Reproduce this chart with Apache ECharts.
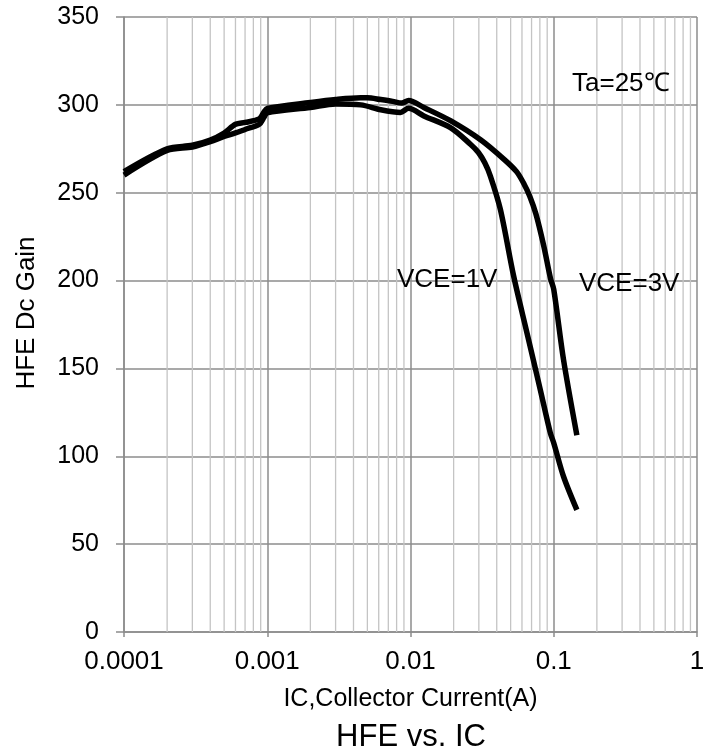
<!DOCTYPE html>
<html>
<head>
<meta charset="utf-8">
<script src="https://cdn.jsdelivr.net/npm/echarts@6/dist/echarts.min.js"></script>
<style>
  html, body { margin: 0; padding: 0; background: #fff; }
  #chart { width: 708px; height: 755px; }
</style>
</head>
<body>
<div id="chart"></div>
<script>
// VCE=3V curve
const ic3 = [0.0001, 0.0002, 0.0003, 0.0004, 0.0005, 0.0006, 0.0007, 0.00088, 0.00095, 0.001, 0.002, 0.003, 0.0045, 0.005, 0.0062, 0.0075, 0.0087, 0.0097, 0.0124, 0.019, 0.031, 0.045, 0.055, 0.062, 0.068, 0.075, 0.085, 0.095, 0.1, 0.117, 0.145]
const hfe3 = [262, 275, 277, 280, 284, 289, 290, 292, 296, 298, 301.3, 303, 304, 304, 303, 302, 301, 302.5, 298.5, 291, 280, 269, 262, 255, 248, 238, 220, 201, 195, 155, 112]
// VCE=1V curve
const ic1 = [0.0001, 0.0002, 0.0003, 0.0004, 0.0005, 0.0006, 0.0007, 0.00088, 0.00095, 0.001, 0.002, 0.003, 0.0045, 0.0062, 0.0085, 0.0097, 0.0124, 0.019, 0.0262, 0.0298, 0.033, 0.0361, 0.0424, 0.0525, 0.065, 0.0805, 0.0946, 0.1, 0.117, 0.145]
const hfe1 = [260, 274, 276, 279, 282, 284, 286, 289, 293, 295.5, 298.5, 300.5, 300, 297.2, 295.7, 298, 293.7, 287, 277.6, 272.9, 267, 259.5, 240.5, 202.5, 170.3, 138, 113.3, 107.6, 88.5, 69.5]

const xTickLabels = ['0.0001', '0.001', '0.01', '0.1', '1']
const decades = [0.0001, 0.001, 0.01, 0.1]

// minor vertical grid lines at 2..9 in each decade, one broken line series
let minorData = []
for (let d of decades) {
    for (let k = 2; k <= 9; k++) {
        minorData.push([d * k, 0], [d * k, 350], [d * k, '-'])
    }
}

function pairs(xs, ys) {
    return xs.map((x, i) => [x, ys[i]])
}

let myChart = echarts.init(document.getElementById('chart'))

let txt = { fontFamily: 'Liberation Sans, Arial, sans-serif', color: '#000' }

let option = {
    animation: false,
    backgroundColor: '#fff',
    title: {
        text: 'HFE vs. IC',
        left: 406,
        top: 717,
        textAlign: 'center',
        textStyle: { ...txt, fontSize: 31, fontWeight: 'normal' }
    },
    grid: { left: 124, right: 11, top: 17, bottom: 123 },
    xAxis: {
        type: 'log',
        logBase: 10,
        min: 0.0001,
        max: 1,
        name: 'IC,Collector Current(A)',
        nameLocation: 'middle',
        nameGap: 55,
        nameTextStyle: { ...txt, fontSize: 25 },
        axisLine: { lineStyle: { color: '#8c8c8c', width: 1.5 } },
        axisTick: { show: true, length: 5, lineStyle: { color: '#8c8c8c', width: 1.5 } },
        axisLabel: {
            ...txt,
            fontSize: 26,
            margin: 17,
            formatter: function(v) {
                return xTickLabels[Math.round(Math.log10(v)) + 4]
            }
        },
        splitLine: { show: true, lineStyle: { color: '#8c8c8c', width: 1.5 } }
    },
    yAxis: {
        type: 'value',
        min: 0,
        max: 350,
        interval: 50,
        name: 'HFE Dc Gain',
        nameLocation: 'middle',
        nameGap: 84,
        nameTextStyle: { ...txt, fontSize: 26, padding: [0, 0, 0, 23] },
        axisLine: { show: true, lineStyle: { color: '#8c8c8c', width: 1.5 } },
        axisTick: { show: true, length: 8, lineStyle: { color: '#8c8c8c', width: 1.5 } },
        axisLabel: { ...txt, fontSize: 25, margin: 25 },
        splitLine: { show: true, lineStyle: { color: '#8c8c8c', width: 1.5 } }
    },
    graphic: [
        { type: 'text', left: 572, top: 71, z: 10, style: { ...txt, text: 'Ta=25℃', fontSize: 26, fill: '#000' } },
        { type: 'text', left: 397, top: 267, z: 10, style: { ...txt, text: 'VCE=1V', fontSize: 26, fill: '#000' } },
        { type: 'text', left: 579, top: 271, z: 10, style: { ...txt, text: 'VCE=3V', fontSize: 26, fill: '#000' } }
    ],
    series: [{
        name: 'minor',
        type: 'line',
        data: minorData,
        silent: true,
        symbol: 'none',
        connectNulls: false,
        lineStyle: { color: '#c4c4c4', width: 1.3 },
        z: 1
    }, {
        name: 'VCE=3V',
        type: 'line',
        data: pairs(ic3, hfe3),
        smooth: 0.3,
        symbol: 'none',
        lineStyle: { color: '#000', width: 5.5 },
        z: 3
    }, {
        name: 'VCE=1V',
        type: 'line',
        data: pairs(ic1, hfe1),
        smooth: 0.3,
        symbol: 'none',
        lineStyle: { color: '#000', width: 5.5 },
        z: 3
    }]
}
myChart.setOption(option)
</script>
</body>
</html>
